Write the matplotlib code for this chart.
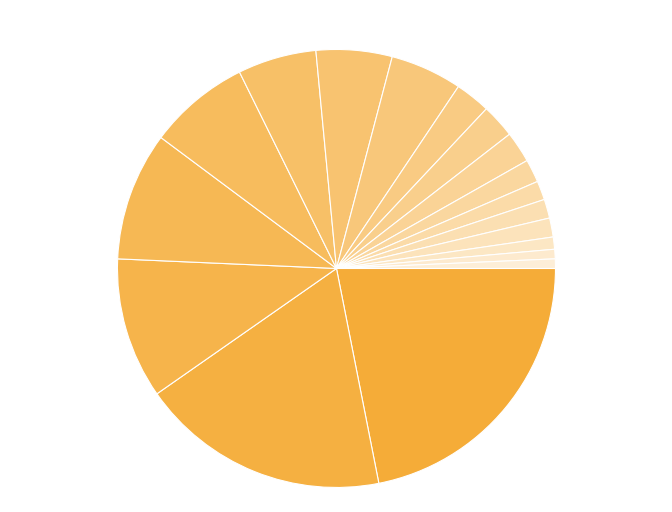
import numpy as np
import matplotlib.pyplot as plt
from matplotlib.colors import to_rgb

# slice values (percent of total), largest first
values = [21.9, 18.4, 10.4, 9.5, 7.5, 5.8, 5.6, 5.3, 2.6, 2.5, 2.3,
          1.7, 1.4, 1.4, 1.4, 0.9, 0.7, 0.7]

base = np.array(to_rgb("#f5ac38"))
n = len(values)
alphas = np.linspace(1.0, 0.2, n)
colors = [tuple(base * a + (1 - a)) for a in alphas]

fig = plt.figure(figsize=(6.72, 5.12), dpi=100)
ax = fig.add_axes([0.1748, 0.0479, 0.6518, 0.8555])
ax.pie(values, colors=colors, startangle=0, counterclock=False, radius=1,
       wedgeprops=dict(edgecolor="white", linewidth=0.8))
ax.set_xlim(-1, 1)
ax.set_ylim(-1, 1)
ax.set_aspect("equal")
ax.axis("off")

fig.savefig("out.png", dpi=100)
